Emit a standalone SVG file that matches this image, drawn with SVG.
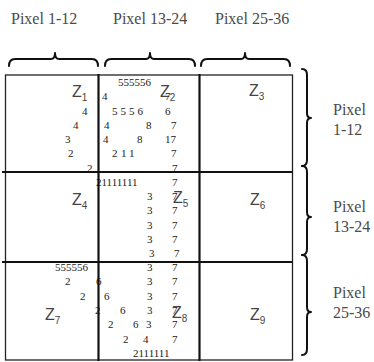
<svg xmlns="http://www.w3.org/2000/svg" width="374" height="362" viewBox="0 0 374 362">
<style>
.lbl{font-family:"Liberation Serif",serif;font-size:16px;fill:#4a4a4a}
.z{font-family:"Liberation Sans",sans-serif;font-size:16px;fill:#444}
.z tspan{font-size:10px}
.n{font-family:"Liberation Serif",serif;font-size:11px;fill:#222}
.br{fill:none;stroke:#111;stroke-width:2;stroke-linejoin:round;stroke-linecap:round}
.in{stroke:#111;stroke-width:2.2}
.out{fill:none;stroke:#222;stroke-width:1.3}
</style>
<g id="top-labels">
<text class="lbl" x="11" y="24">Pixel 1-12</text>
<text class="lbl" x="113" y="24">Pixel 13-24</text>
<text class="lbl" x="215" y="24">Pixel 25-36</text>
</g>
<g id="right-labels">
<text class="lbl" x="333" y="115">Pixel</text>
<text class="lbl" x="333" y="135">1-12</text>
<text class="lbl" x="333" y="212">Pixel</text>
<text class="lbl" x="333" y="232">13-24</text>
<text class="lbl" x="333" y="298">Pixel</text>
<text class="lbl" x="333" y="318">25-36</text>
</g>
<g id="braces">
<path class="br" d="M9,66 Q9,59 15,59 L51,59 Q55,59 55,53 Q55,59 59,59 L92,59 Q98,59 98,66"/>
<path class="br" d="M105,66 Q105,59 111,59 L146,59 Q150,59 150,53 Q150,59 154,59 L189,59 Q195,59 195,66"/>
<path class="br" d="M201,66 Q201,59 207,59 L241,59 Q245,59 245,53 Q245,59 249,59 L284,59 Q290,59 290,66"/>
<path class="br" d="M302,69 Q307,69 307,75 L307,113 Q307,118 311,118 Q307,118 307,123 L307,160 Q307,166 302,166"/>
<path class="br" d="M302,166 Q307,166 307,172 L307,212 Q307,217 311,217 Q307,217 307,222 L307,249 Q307,255 302,255"/>
<path class="br" d="M302,255 Q307,255 307,261 L307,307 Q307,312 311,312 Q307,312 307,317 L307,349 Q307,355 302,355"/>
</g>
<g id="numbers" class="n">
<text x="118" y="86">555556</text>
<text x="102" y="100">4</text><text x="165" y="100">7</text>
<text x="82" y="115">4</text><text x="112 120.5 129 137.5" y="115">5556</text><text x="165" y="115">6</text>
<text x="73" y="129">4</text><text x="104" y="129">4</text><text x="146" y="129">8</text><text x="171" y="129">7</text>
<text x="65" y="143">3</text><text x="103" y="143">4</text><text x="137" y="143">8</text><text x="165" y="143">17</text>
<text x="68" y="157">2</text><text x="112 121 129" y="157">211</text><text x="171" y="157">7</text>
<text x="87" y="172">2</text><text x="172" y="172">7</text>
<text x="96" y="186">21111111</text><text x="172" y="186">7</text>
<text x="147" y="200">3</text><text x="172" y="200">7</text>
<text x="147" y="214">3</text><text x="172" y="214">7</text>
<text x="147" y="229">3</text><text x="172" y="229">7</text>
<text x="147" y="243">3</text><text x="172" y="243">7</text>
<text x="149" y="257">3</text><text x="174" y="257">7</text>
<text x="55" y="271">555556</text><text x="147" y="271">3</text><text x="172" y="271">7</text>
<text x="65" y="285">2</text><text x="96" y="285">6</text><text x="147" y="285">3</text><text x="172" y="285">7</text>
<text x="80" y="300">2</text><text x="104" y="300">6</text><text x="147" y="300">3</text><text x="172" y="300">7</text>
<text x="95" y="314">2</text><text x="120" y="314">6</text><text x="147" y="314">3</text><text x="172" y="314">7</text>
<text x="108" y="328">2</text><text x="133" y="328">6</text><text x="146" y="328">3</text><text x="172" y="328">7</text>
<text x="123" y="343">2</text><text x="143" y="343">4</text><text x="172" y="343">7</text>
<text x="133" y="357">2111111</text>
</g>
<g id="zones">
<g id="z1"><text class="z" x="72" y="97">Z<tspan dy="4">1</tspan></text></g>
<g id="z2"><text class="z" x="160" y="97">Z<tspan dy="4">2</tspan></text></g>
<g id="z3"><text class="z" x="249" y="96">Z<tspan dy="4">3</tspan></text></g>
<g id="z4"><text class="z" x="72" y="205">Z<tspan dy="4">4</tspan></text></g>
<g id="z5"><text class="z" x="173" y="203">Z<tspan dy="4">5</tspan></text></g>
<g id="z6"><text class="z" x="250" y="205">Z<tspan dy="4">6</tspan></text></g>
<g id="z7"><text class="z" x="45" y="320">Z<tspan dy="4">7</tspan></text></g>
<g id="z8"><text class="z" x="172" y="318">Z<tspan dy="4">8</tspan></text></g>
<g id="z9"><text class="z" x="250" y="320">Z<tspan dy="4">9</tspan></text></g>
</g>
<g id="grid">
<rect class="out" x="5.5" y="75" width="287" height="285"/>
<line class="in" x1="98.5" y1="74" x2="98.5" y2="361"/>
<line class="in" x1="199.5" y1="74" x2="199.5" y2="361"/>
<line class="in" x1="2" y1="172" x2="292" y2="172"/>
<line class="in" x1="2" y1="262" x2="292" y2="262"/>
</g>
</svg>
